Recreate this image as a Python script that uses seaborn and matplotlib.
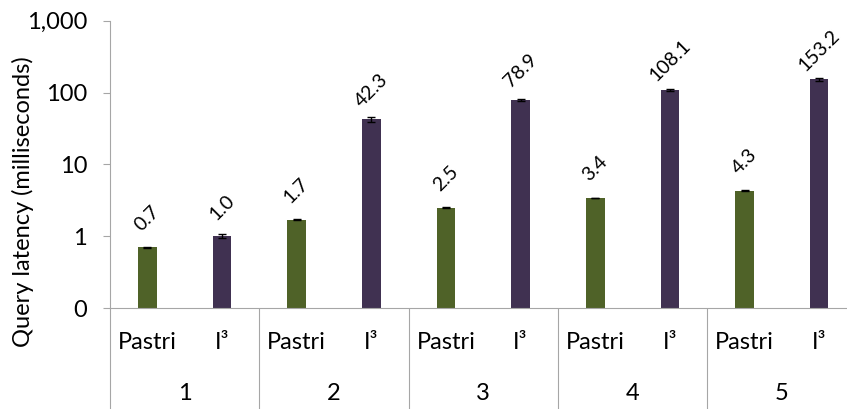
import numpy as np
import pandas as pd
import matplotlib
matplotlib.use("Agg")
import matplotlib.pyplot as plt
import matplotlib.transforms as mtransforms
import seaborn as sns

# Query latency per configuration (milliseconds)
groups = ["1", "2", "3", "4", "5"]
systems = ["Pastri", "I\u00b3"]
pastri_ms = [0.7, 1.7, 2.5, 3.4, 4.3]
i3_ms = [1.0, 42.3, 78.9, 108.1, 153.2]
pastri_err = [0.01, 0.02, 0.03, 0.03, 0.05]
i3_err = [0.07, 4.0, 3.5, 3.0, 7.0]
y_ticks = [0.1, 1, 10, 100, 1000]
y_tick_labels = ["0", "1", "10", "100", "1,000"]

colors = {"Pastri": "#4F6228", "I\u00b3": "#403151"}
axis_gray = "#A6A6A6"

sns.set_theme(style="white")
plt.rcParams["font.family"] = ["Lato", "DejaVu Sans"]

df = pd.DataFrame({
    "group": groups * 2,
    "system": [systems[0]] * len(groups) + [systems[1]] * len(groups),
    "latency": pastri_ms + i3_ms,
    "err": pastri_err + i3_err,
})

fig = plt.figure(figsize=(8.47, 4.09), dpi=100)
ax = fig.add_axes([0.1299, 0.2469, 0.8813, 0.7024])

sns.barplot(data=df, x="group", y="latency", hue="system", order=groups,
            hue_order=systems, palette=colors, width=1.0, gap=0.75,
            errorbar=None, saturation=1, linewidth=0, legend=False, ax=ax)

ax.set_yscale("log")
ax.set_ylim(0.1, 1000)
ax.set_xlim(-0.5, len(groups) - 0.5)

# error bars and rotated value labels
offsets = {systems[0]: -0.25, systems[1]: 0.25}
for _, row in df.iterrows():
    xpos = groups.index(row["group"]) + offsets[row["system"]]
    ax.errorbar(xpos, row["latency"], yerr=row["err"], fmt="none",
                ecolor="black", elinewidth=1, capsize=3, capthick=1)
    ax.annotate(f"{row['latency']:.1f}", (xpos, row["latency"]),
                xytext=(0, 21), textcoords="offset points",
                ha="center", va="center", rotation=45,
                fontsize=14, color="black")

# y axis
ax.set_yticks(y_ticks)
ax.set_yticklabels(y_tick_labels)
ax.yaxis.set_minor_locator(matplotlib.ticker.NullLocator())
ax.tick_params(axis="y", which="major", length=5, width=0.8, color=axis_gray,
               direction="out", pad=11.5, labelsize=17, labelcolor="black", left=True)
ax.set_ylabel("Query latency (milliseconds)", fontsize=17, color="black")
ax.yaxis.label.set_va("center")
ax.yaxis.set_label_coords(-0.116, 0.37)

# x axis: system labels under each bar, group numbers below
xpos_all = []
xlab_all = []
for i in range(len(groups)):
    for s in systems:
        xpos_all.append(i + offsets[s])
        xlab_all.append(s)
ax.set_xticks(xpos_all)
ax.set_xticklabels(xlab_all)
for lab in ax.get_xticklabels():
    lab.set_verticalalignment("center")
ax.tick_params(axis="x", length=0, pad=24.5, labelsize=17, labelcolor="black")
ax.set_xlabel("")

trans = mtransforms.blended_transform_factory(ax.transData, ax.transAxes)
for i, g in enumerate(groups):
    ax.text(i, -0.299, g, transform=trans, ha="center", va="center",
            fontsize=17, color="black")

# group separator lines
for b in np.arange(-0.5, len(groups) + 0.5, 1.0):
    ax.plot([b, b], [0, -0.4], transform=trans, color=axis_gray,
            linewidth=0.8, clip_on=False)

for side in ["top", "right"]:
    ax.spines[side].set_visible(False)
for side in ["left", "bottom"]:
    ax.spines[side].set_color(axis_gray)
    ax.spines[side].set_linewidth(0.8)

fig.savefig("out.png", dpi=100)
